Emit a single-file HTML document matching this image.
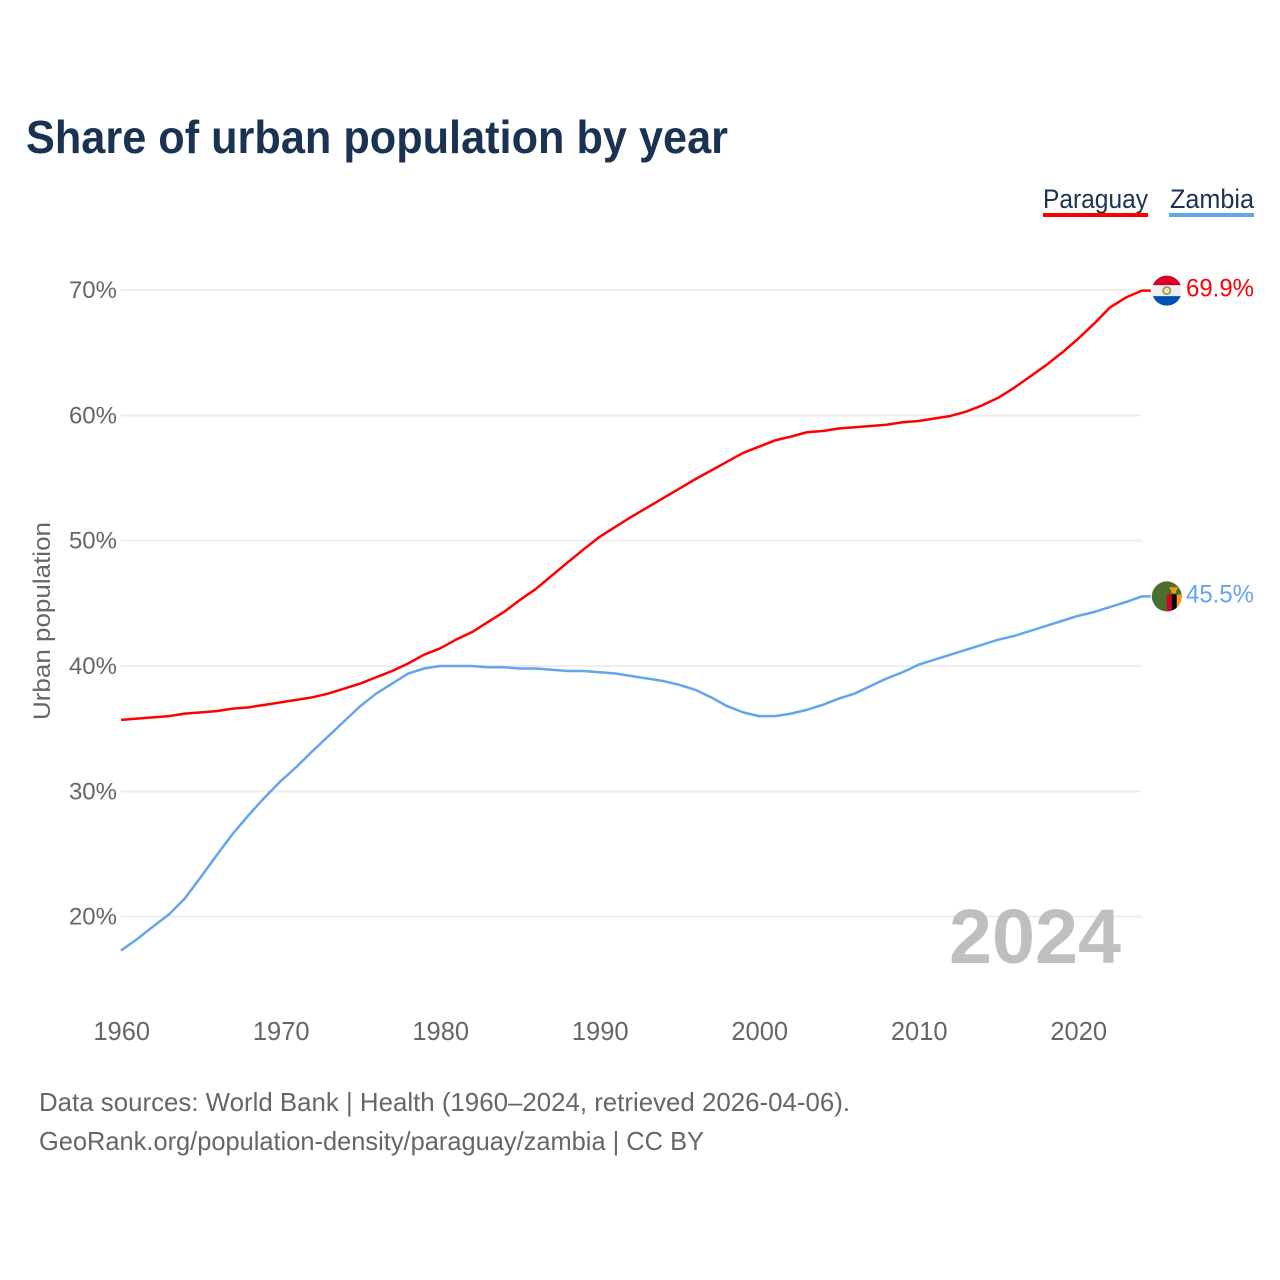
<!DOCTYPE html>
<html lang="en">
<head>
<meta charset="utf-8">
<title>Share of urban population by year</title>
<style>
html,body{margin:0;padding:0;background:#fff;}
svg{display:block;font-family:"Liberation Sans",Arial,sans-serif;}
</style>
</head>
<body>
<svg id="chart" xmlns="http://www.w3.org/2000/svg" width="1280" height="1280" viewBox="0 0 1280 1280">
  <defs>
    <clipPath id="flag-clip"><circle cx="0" cy="0" r="15"/></clipPath>
  </defs>
  <rect x="0" y="0" width="1280" height="1280" fill="#ffffff"/>
  <text x="26" y="153" font-size="46" font-weight="700" fill="#1a3353" textLength="702" lengthAdjust="spacingAndGlyphs">Share of urban population by year</text>

  <text x="1043" y="208" font-size="27" fill="#1a3353" textLength="105" lengthAdjust="spacingAndGlyphs">Paraguay</text>
  <rect x="1043" y="213" width="105" height="4" fill="#ff0000"/>
  <text x="1170" y="208" font-size="27" fill="#1a3353" textLength="84" lengthAdjust="spacingAndGlyphs">Zambia</text>
  <rect x="1169" y="213" width="85" height="4" fill="#63a5ea"/>

  <g id="grid"></g>
  <g id="y-ticks"></g>
  <g id="x-ticks"></g>

  <text transform="translate(50,621) rotate(-90)" text-anchor="middle" font-size="24" fill="#666666" textLength="198" lengthAdjust="spacingAndGlyphs">Urban population</text>

  <text x="949" y="963" font-size="77" font-weight="700" fill="#bfbfbf" textLength="172" lengthAdjust="spacingAndGlyphs">2024</text>

  <path id="line-paraguay" fill="none" stroke="#ff0000" stroke-width="2.5" stroke-linejoin="round"/>
  <path id="line-zambia" fill="none" stroke="#63a5ea" stroke-width="2.5" stroke-linejoin="round"/>

  <g id="flag-paraguay">
    <g clip-path="url(#flag-clip)">
      <rect x="-16" y="-16" width="32" height="32" fill="#eeeeee"/>
      <rect x="-16" y="-16" width="32" height="10.5" fill="#d80027"/>
      <rect x="-16" y="5.5" width="32" height="10.5" fill="#0052b4"/>
      <circle cx="0" cy="0" r="3.6" fill="none" stroke="#8aa05a" stroke-width="1.8"/>
      <circle cx="0" cy="-0.5" r="1.3" fill="#ffda44"/>
    </g>
  </g>
  <g id="flag-zambia">
    <g clip-path="url(#flag-clip)">
      <rect x="-16" y="-16" width="32" height="32" fill="#496e2d"/>
      <rect x="0" y="-2" width="5" height="18" fill="#d80027"/>
      <rect x="5" y="-2" width="5" height="18" fill="#000000"/>
      <rect x="10" y="-2" width="6" height="18" fill="#ff9811"/>
      <polygon points="2,-9 12,-9 9.5,-6 9,-3 5,-3 4.5,-6" fill="#ff9811"/>
    </g>
  </g>

  <text id="value-paraguay" x="1186" font-size="25" fill="#ff0000" textLength="68" lengthAdjust="spacingAndGlyphs"></text>
  <text id="value-zambia" x="1186" font-size="25" fill="#63a5ea" textLength="68" lengthAdjust="spacingAndGlyphs"></text>

  <text x="39" y="1111" font-size="26" fill="#666666" textLength="811" lengthAdjust="spacingAndGlyphs">Data sources: World Bank | Health (1960–2024, retrieved 2026-04-06).</text>
  <text x="39" y="1150" font-size="26" fill="#666666" textLength="665" lengthAdjust="spacingAndGlyphs">GeoRank.org/population-density/paraguay/zambia | CC BY</text>
</svg>
<script>
var years = [1960,1961,1962,1963,1964,1965,1966,1967,1968,1969,1970,1971,1972,1973,1974,1975,1976,1977,1978,1979,1980,1981,1982,1983,1984,1985,1986,1987,1988,1989,1990,1991,1992,1993,1994,1995,1996,1997,1998,1999,2000,2001,2002,2003,2004,2005,2006,2007,2008,2009,2010,2011,2012,2013,2014,2015,2016,2017,2018,2019,2020,2021,2022,2023,2024];
var paraguayValues = [35.7,35.8,35.9,36.0,36.2,36.3,36.4,36.6,36.7,36.9,37.1,37.3,37.5,37.8,38.2,38.6,39.1,39.6,40.2,40.9,41.4,42.1,42.7,43.5,44.3,45.26,46.14,47.2,48.26,49.3,50.3,51.1,51.9,52.65,53.4,54.15,54.9,55.6,56.3,57.0,57.5,58.0,58.3,58.65,58.75,58.95,59.05,59.15,59.25,59.45,59.55,59.75,59.95,60.3,60.8,61.4,62.2,63.1,64.0,65.0,66.1,67.3,68.6,69.4,69.95];
var zambiaValues = [17.3,18.2,19.2,20.17,21.45,23.15,24.9,26.6,28.1,29.5,30.8,31.95,33.2,34.4,35.6,36.8,37.8,38.6,39.4,39.8,40.0,40.0,40.0,39.9,39.9,39.8,39.8,39.7,39.6,39.6,39.5,39.4,39.2,39.0,38.8,38.5,38.1,37.5,36.8,36.3,36.0,36.0,36.2,36.5,36.9,37.4,37.8,38.4,39.0,39.5,40.1,40.5,40.9,41.3,41.7,42.1,42.4,42.8,43.2,43.6,44.0,44.3,44.7,45.1,45.55];
var yTickValues = [20,30,40,50,60,70];
var yTickLabels = ["20%","30%","40%","50%","60%","70%"];
var xTickValues = [1960,1970,1980,1990,2000,2010,2020];
var xTickLabels = ["1960","1970","1980","1990","2000","2010","2020"];
var endLabels = ["69.9%","45.5%"];

var NS = "http://www.w3.org/2000/svg";
function xScale(year) { return 121 + (year - 1960) * 15.95; }
function yScale(value) { return 290 + (70 - value) * 12.533; }

var gridGroup = document.getElementById("grid");
var yGroup = document.getElementById("y-ticks");
var xGroup = document.getElementById("x-ticks");

yTickValues.forEach(function (v, i) {
  var line = document.createElementNS(NS, "line");
  
  
  line.setAttribute("x1", xScale(1960));
  line.setAttribute("x2", xScale(2024));
  line.setAttribute("y1", yScale(v));
  line.setAttribute("y2", yScale(v));
  line.setAttribute("stroke", "#eeeeee");
  line.setAttribute("stroke-width", "2");
  gridGroup.appendChild(line);

  var t = document.createElementNS(NS, "text");
  
  
  t.setAttribute("x", 117);
  t.setAttribute("y", yScale(v) + 8);
  t.setAttribute("text-anchor", "end");
  t.setAttribute("font-size", "24");
  t.setAttribute("fill", "#666666");
  t.textContent = yTickLabels[i];
  yGroup.appendChild(t);
});

xTickValues.forEach(function (v, i) {
  var t = document.createElementNS(NS, "text");
  
  
  t.setAttribute("x", xScale(v) + 0.7);
  t.setAttribute("y", 1040);
  t.setAttribute("text-anchor", "middle");
  t.setAttribute("font-size", "25.5");
  t.setAttribute("fill", "#666666");
  t.textContent = xTickLabels[i];
  xGroup.appendChild(t);
});

function linePath(values) {
  var d = values.map(function (v, i) {
    return (i ? "L" : "M") + xScale(years[i]).toFixed(2) + " " + yScale(v).toFixed(2);
  }).join(" ");
  var last = values[values.length - 1];
  return d + " L" + (xScale(years[years.length - 1]) + 9).toFixed(2) + " " + yScale(last).toFixed(2);
}
document.getElementById("line-paraguay").setAttribute("d", linePath(paraguayValues));
document.getElementById("line-zambia").setAttribute("d", linePath(zambiaValues));

var endX = xScale(2024) + 25;
var pLast = paraguayValues[paraguayValues.length - 1];
var zLast = zambiaValues[zambiaValues.length - 1];
document.getElementById("flag-paraguay").setAttribute("transform", "translate(" + endX + "," + yScale(pLast) + ")");
document.getElementById("flag-zambia").setAttribute("transform", "translate(" + endX + "," + yScale(zLast) + ")");
var vp = document.getElementById("value-paraguay");
vp.setAttribute("y", yScale(pLast) + 6);
vp.textContent = endLabels[0];
var vz = document.getElementById("value-zambia");
vz.setAttribute("y", yScale(zLast) + 6);
vz.textContent = endLabels[1];
</script>
</body>
</html>
